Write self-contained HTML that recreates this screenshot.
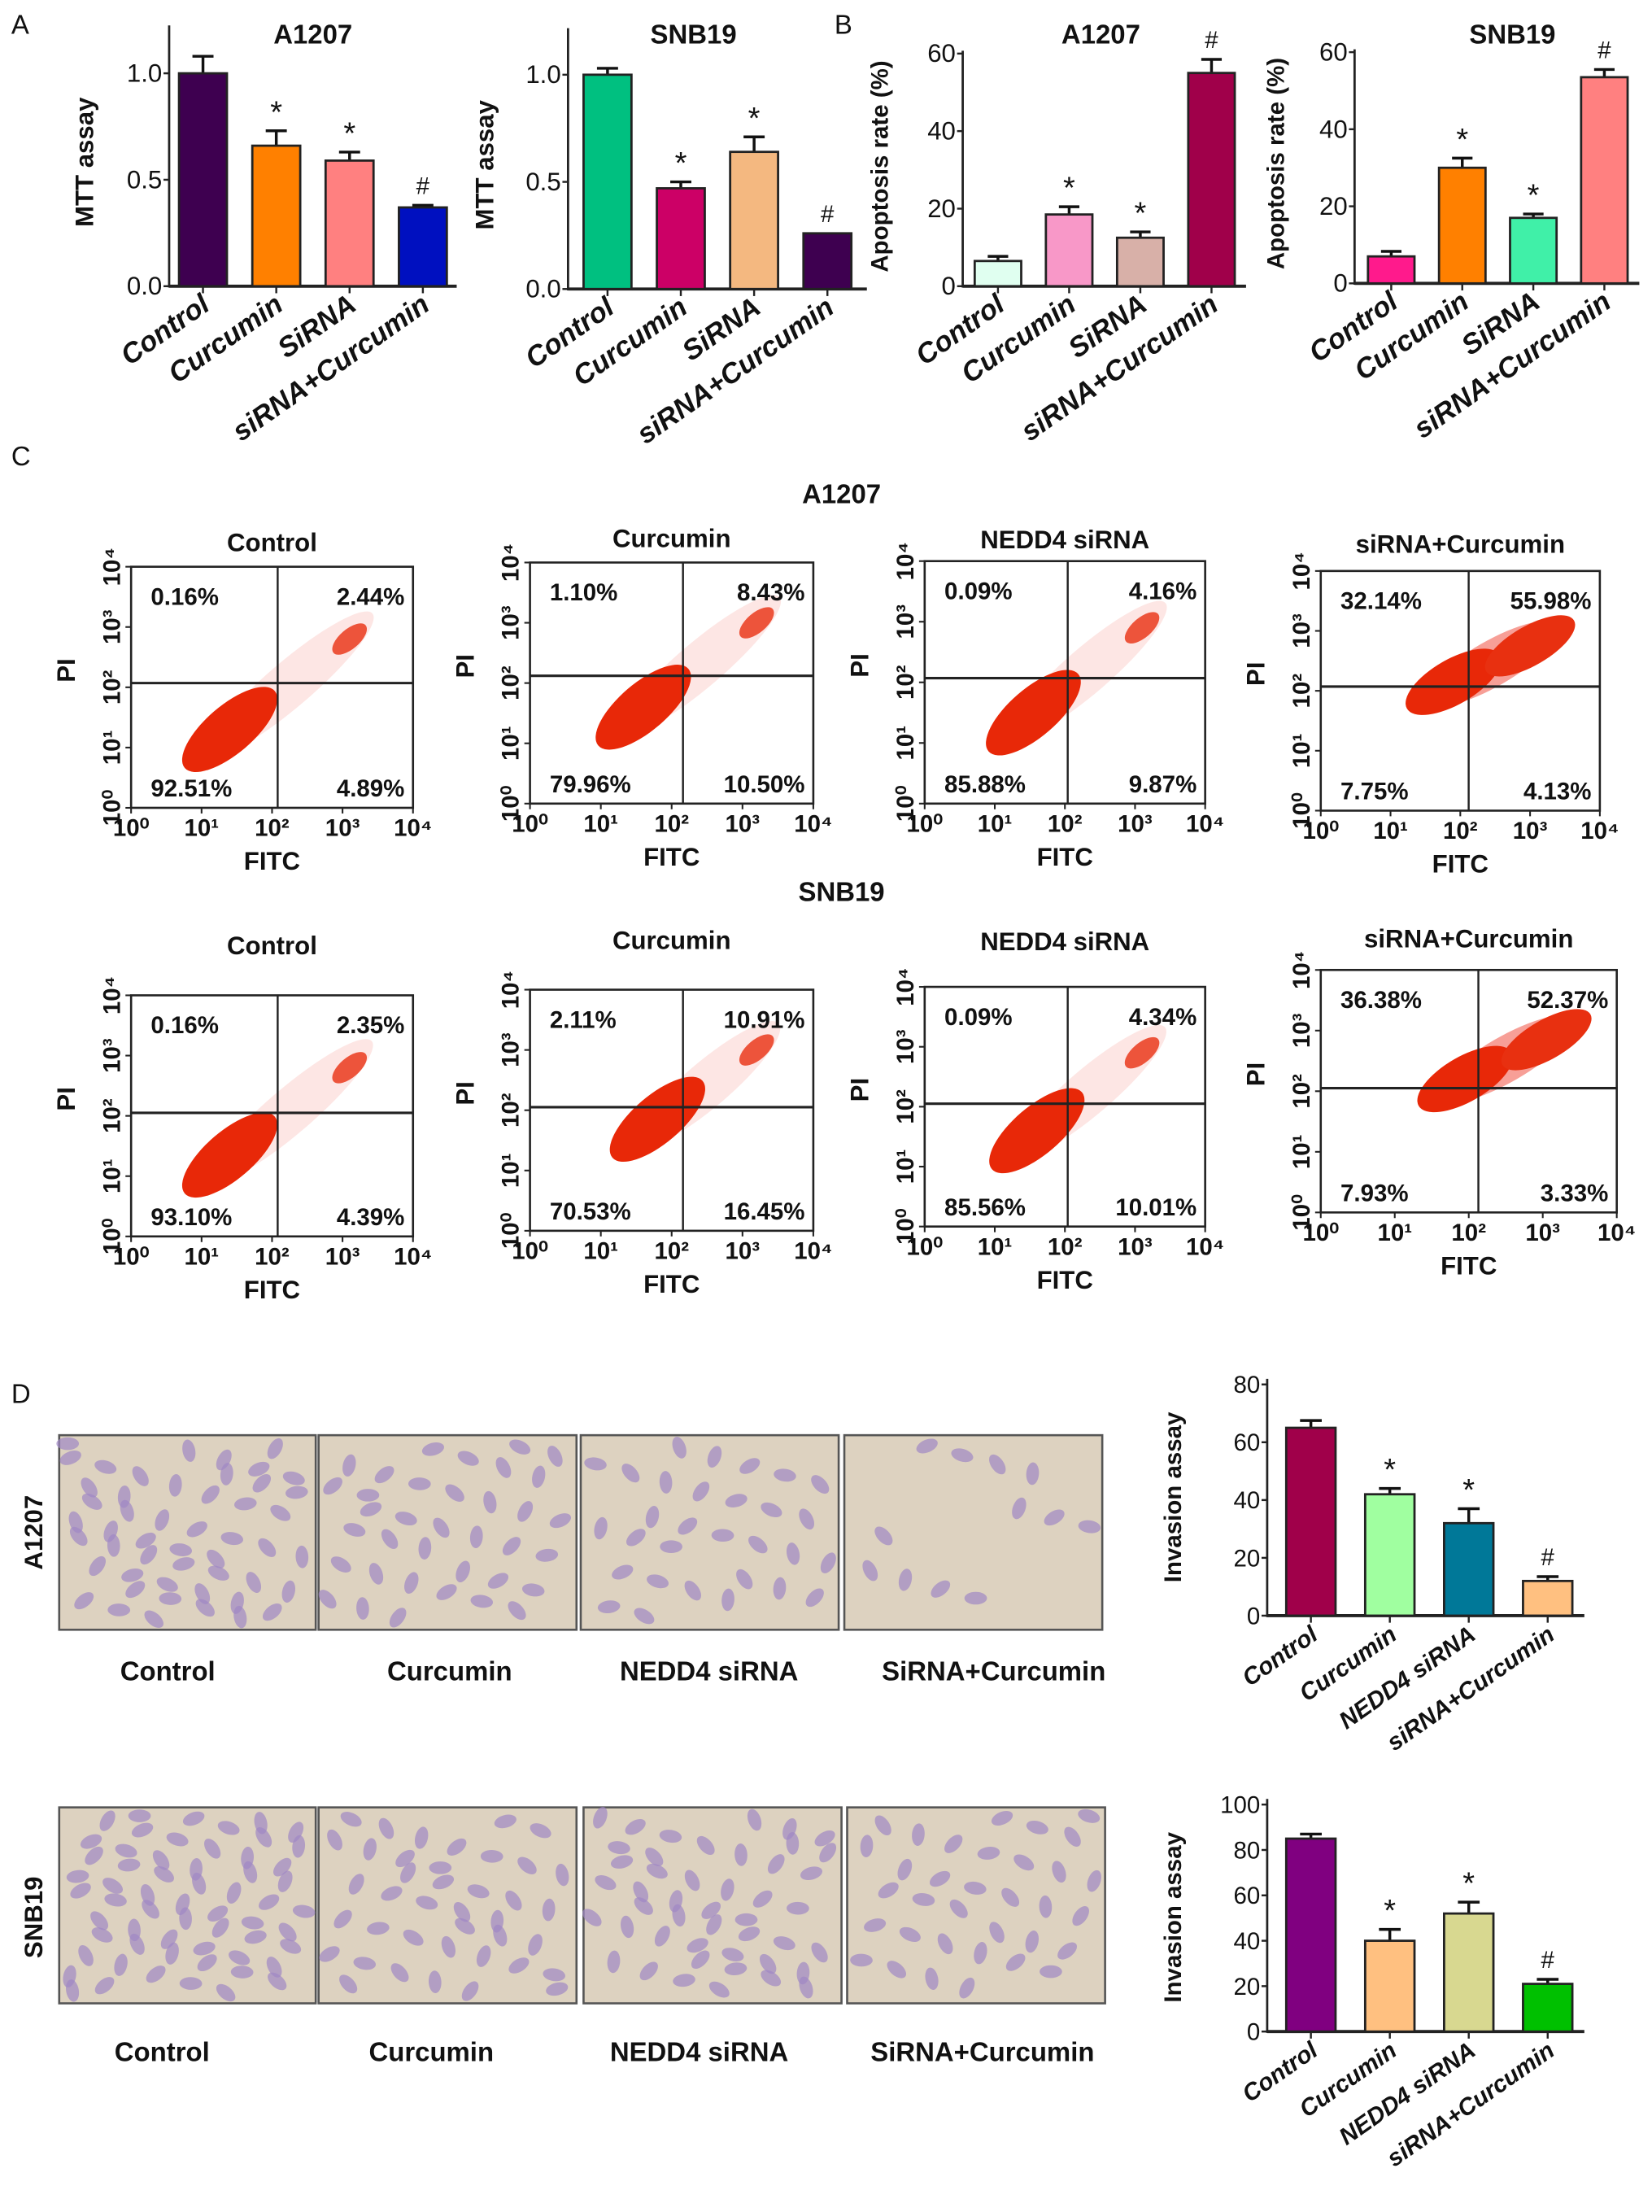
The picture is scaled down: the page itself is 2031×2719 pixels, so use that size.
<!DOCTYPE html>
<html><head><meta charset="utf-8"><style>
html,body{margin:0;padding:0;background:#fff}
svg{display:block}
text{font-family:"Liberation Sans",sans-serif;fill:#111}
</style></head><body>
<svg id="fig" xmlns="http://www.w3.org/2000/svg" width="2031" height="2719" viewBox="0 0 1172 1569" preserveAspectRatio="none">
<text x="8" y="24" font-size="19">A</text>
<text x="592" y="24" font-size="19">B</text>
<text x="8" y="330" font-size="19">C</text>
<text x="8" y="995" font-size="19">D</text>
<text x="597" y="357" font-size="19" font-weight="bold" text-anchor="middle">A1207</text>
<text x="597" y="639" font-size="19" font-weight="bold" text-anchor="middle">SNB19</text>
</svg>
<script>
// ---------- DATA ----------
const mttCats = ["Control","Curcumin","SiRNA","siRNA+Curcumin"];
const mttA1207Values = [1.0, 0.66, 0.59, 0.37];
const mttA1207Err = [0.08, 0.07, 0.04, 0.01];
const mttA1207Marks = ["", "*", "*", "#"];
const mttSNB19Values = [1.0, 0.47, 0.64, 0.26];
const mttSNB19Err = [0.03, 0.03, 0.07, 0.0];
const mttSNB19Marks = ["", "*", "*", "#"];
const mttTicks = [0, 0.5, 1.0];
const mttTickLabels = ["0.0","0.5","1.0"];

const apopCats = ["Control","Curcumin","SiRNA","siRNA+Curcumin"];
const apopA1207Values = [6.5, 18.5, 12.5, 55];
const apopA1207Err = [1.2, 2.0, 1.5, 3.5];
const apopA1207Marks = ["", "*", "*", "#"];
const apopSNB19Values = [7, 30, 17, 53.5];
const apopSNB19Err = [1.3, 2.5, 1.0, 2.0];
const apopSNB19Marks = ["", "*", "*", "#"];
const apopTicks = [0, 20, 40, 60];
const apopTickLabels = ["0","20","40","60"];

const invCats = ["Control","Curcumin","NEDD4 siRNA","siRNA+Curcumin"];
const invA1207Values = [65, 42, 32, 12];
const invA1207Err = [2.5, 2.0, 5.0, 1.5];
const invA1207Marks = ["", "*", "*", "#"];
const invA1207Ticks = [0, 20, 40, 60, 80];
const invA1207TickLabels = ["0","20","40","60","80"];
const invSNB19Values = [85, 40, 52, 21];
const invSNB19Err = [2.0, 5.0, 5.0, 2.0];
const invSNB19Marks = ["", "*", "*", "#"];
const invSNB19Ticks = [0, 20, 40, 60, 80, 100];
const invSNB19TickLabels = ["0","20","40","60","80","100"];

const flowTitles = ["Control","Curcumin","NEDD4  siRNA","siRNA+Curcumin","Control","Curcumin","NEDD4  siRNA","siRNA+Curcumin"];
const flowUL = ["0.16%","1.10%","0.09%","32.14%","0.16%","2.11%","0.09%","36.38%"];
const flowUR = ["2.44%","8.43%","4.16%","55.98%","2.35%","10.91%","4.34%","52.37%"];
const flowLL = ["92.51%","79.96%","85.88%","7.75%","93.10%","70.53%","85.56%","7.93%"];
const flowLR = ["4.89%","10.50%","9.87%","4.13%","4.39%","16.45%","10.01%","3.33%"];
const flowMainX = [1.4,1.6,1.55,1.9,1.4,1.8,1.6,1.95];
const flowMainY = [1.3,1.6,1.5,2.15,1.35,1.85,1.6,2.2];
const flowTailX = [3.1,3.2,3.1,3.0,3.1,3.2,3.1,3.05];
const flowTailY = [2.8,3.0,2.9,2.75,2.8,3.0,2.9,2.85];
const flowGateX = [2.08,2.16,2.04,2.12,2.08,2.16,2.04,2.13];
const flowGateY = [2.07,2.12,2.07,2.07,2.05,2.05,2.05,2.05];
const flowLogTickLabels = ["10⁰","10¹","10²","10³","10⁴"];

// ---------- helpers ----------
const NS="http://www.w3.org/2000/svg";
const svg=document.getElementById('fig');
function mk(tag,attrs,parent){const e=document.createElementNS(NS,tag);for(const k in attrs)e.setAttribute(k,attrs[k]);(parent||svg).appendChild(e);return e;}
function txt(s,attrs,parent){const e=mk('text',attrs,parent);e.textContent=s;return e;}

function barChart(c, cats, vals, errs, marks, ticks, tickLabels, colors){
  const g=mk('g',{});
  
  
  const y=v=>c.base-(v/c.max)*(c.base-c.topPix);
  const ax=mk('line',{x1:c.x0,y1:c.axisTop,x2:c.x0,y2:c.base+1,stroke:'#222','stroke-width':1.6},g);
  
  
  const xa=mk('line',{x1:c.x0,y1:c.base,x2:c.xEnd,y2:c.base,stroke:'#222','stroke-width':2.2},g);
  
  
  ticks.forEach((t,i)=>{
    mk('line',{x1:c.x0-4,y1:y(t),x2:c.x0,y2:y(t),stroke:'#222','stroke-width':1.4},g);
    const tl=txt(tickLabels[i],{x:c.x0-5,y:y(t)+6,'font-size':c.tickFs||18,'text-anchor':'end'},g);
    
    
  });
  cats.forEach((cat,i)=>{
    const cx=c.cx0+i*c.step, v=vals[i], e=errs[i];
    const top=y(v+e);
    if(e>0){
      mk('line',{x1:cx,y1:y(v),x2:cx,y2:top,stroke:'#111','stroke-width':2},g);
      mk('line',{x1:cx-c.barW*0.22,y1:top,x2:cx+c.barW*0.22,y2:top,stroke:'#111','stroke-width':2},g);
    }
    const r=mk('rect',{x:cx-c.barW/2,y:y(v),width:c.barW,height:c.base-y(v),fill:colors[i],stroke:'#222','stroke-width':1.6},g);
    
    
    mk('line',{x1:cx,y1:c.base,x2:cx,y2:c.base+5,stroke:'#222','stroke-width':1.4},g);
    if(marks[i]){
      const m=txt(marks[i],{x:cx,y:top-(marks[i]=='*'?6:8),'font-size':marks[i]=='*'?22:17,'text-anchor':'middle'},g);
      
      
    }
    const lx=cx+6, ly=c.base+16;
    const l=txt(cat,{x:lx,y:ly,'font-size':c.catFs||20,'font-weight':'bold','font-style':'italic','text-anchor':'end',transform:`rotate(-35 ${lx} ${ly})`},g);
    
    
  });
  if(c.title){const t=txt(c.title,{x:c.titleX,y:c.titleY,'font-size':19,'font-weight':'bold','text-anchor':'middle'},g);
    
    }
  const yl=txt(c.ylabel,{x:c.ylX,y:c.ylY,'font-size':c.ylFs||18,'font-weight':'bold','text-anchor':'middle',transform:`rotate(-90 ${c.ylX} ${c.ylY})`,'xml:space':'preserve'},g);
  
  
}

barChart({name:'mtt-a1207-chart',x0:120,xEnd:324,base:203,topPix:52,max:1.0,axisTop:18,cx0:144,step:52,barW:34,title:'A1207',titleX:222,titleY:31,ylabel:'MTT   assay',ylX:66,ylY:115},
  mttCats,mttA1207Values,mttA1207Err,mttA1207Marks,mttTicks,mttTickLabels,['#3e0050','#ff8000','#ff8080','#0010c0']);
barChart({name:'mtt-snb19-chart',x0:403,xEnd:615,base:205,topPix:53,max:1.0,axisTop:20,cx0:431,step:52,barW:34,title:'SNB19',titleX:492,titleY:31,ylabel:'MTT   assay',ylX:350,ylY:117},
  mttCats,mttSNB19Values,mttSNB19Err,mttSNB19Marks,mttTicks,mttTickLabels,['#00c080','#cc0066','#f4b880','#3e0050']);
barChart({name:'apoptosis-a1207-chart',x0:683,xEnd:884,base:203,topPix:38,max:60,axisTop:36,cx0:708,step:50.5,barW:33,title:'A1207',titleX:781,titleY:31,ylabel:'Apoptosis  rate  (%)',ylX:630,ylY:118,ylFs:17},
  apopCats,apopA1207Values,apopA1207Err,apopA1207Marks,apopTicks,apopTickLabels,['#e0fff0','#f898c8','#d8b0a8','#a0004a']);
barChart({name:'apoptosis-snb19-chart',x0:961,xEnd:1163,base:201,topPix:37,max:60,axisTop:35,cx0:987,step:50.4,barW:33,title:'SNB19',titleX:1073,titleY:31,ylabel:'Apoptosis  rate  (%)',ylX:911,ylY:116,ylFs:17},
  apopCats,apopSNB19Values,apopSNB19Err,apopSNB19Marks,apopTicks,apopTickLabels,['#ff1a8c','#ff8000','#40f0a8','#ff8080']);
barChart({name:'invasion-a1207-chart',x0:899,xEnd:1124,base:1146,topPix:982,max:80,axisTop:978,cx0:930,step:56,barW:35,ylabel:'Invasion assay',ylX:838,ylY:1062,ylFs:17,tickFs:17,catFs:17},
  invCats,invA1207Values,invA1207Err,invA1207Marks,invA1207Ticks,invA1207TickLabels,['#a0004a','#a0ffa0','#007898','#ffc080']);
barChart({name:'invasion-snb19-chart',x0:899,xEnd:1124,base:1441,topPix:1280,max:100,axisTop:1276,cx0:930,step:56,barW:35,ylabel:'Invasion assay',ylX:838,ylY:1360,ylFs:17,tickFs:17,catFs:17},
  invCats,invSNB19Values,invSNB19Err,invSNB19Marks,invSNB19Ticks,invSNB19TickLabels,['#800080','#ffc080','#d8d890','#00c000']);

// ---------- flow plots ----------
const flowBoxes=[[93,402,293,573],[376,399,577,570],[656,398,855,570],[937,405,1135,575],
                 [93,706,293,877],[376,702,577,873],[656,700,855,870],[937,688,1147,860]];
const titleY=[391,388,389,392,677,673,674,672];
flowBoxes.forEach((b,i)=>{
  const [L,T,R,B]=b, W=R-L, H=B-T;
  const g=mk('g',{});
  
  
  const X=l=>L+l/4*W, Y=l=>B-l/4*H;
  const late=(i%4==3);
  const ang=late?-30:-Math.atan2(H,W)*180/Math.PI;
  const mx=(flowMainX[i]+flowTailX[i])/2, my=(flowMainY[i]+flowTailY[i])/2;
  const len=Math.hypot(X(flowTailX[i])-X(flowMainX[i]),Y(flowTailY[i])-Y(flowMainY[i]));
  mk('ellipse',{cx:X(mx),cy:Y(my),rx:len/2+24,ry:16,fill:'#f04030',opacity:late?0.5:0.13,transform:`rotate(${ang} ${X(mx)} ${Y(my)})`},g);
  const main=mk('ellipse',{cx:X(flowMainX[i]),cy:Y(flowMainY[i]),rx:late?38:42,ry:late?16:17,fill:'#e82808',transform:`rotate(${ang} ${X(flowMainX[i])} ${Y(flowMainY[i])})`},g);
  
  
  const tail=mk('ellipse',{cx:X(flowTailX[i]),cy:Y(flowTailY[i]),rx:late?36:15,ry:late?14:7,fill:'#e83010',opacity:late?1:0.8,transform:`rotate(${ang} ${X(flowTailX[i])} ${Y(flowTailY[i])})`},g);
  
  
  mk('rect',{x:L,y:T,width:W,height:H,fill:'none',stroke:'#222','stroke-width':1.5},g);
  mk('line',{x1:L,y1:Y(flowGateY[i]),x2:R,y2:Y(flowGateY[i]),stroke:'#222','stroke-width':1.8},g);
  mk('line',{x1:X(flowGateX[i]),y1:T,x2:X(flowGateX[i]),y2:B,stroke:'#222','stroke-width':1.4},g);
  const tt=txt(flowTitles[i],{x:(L+R)/2,y:titleY[i],'font-size':18,'font-weight':'bold','text-anchor':'middle','xml:space':'preserve'},g);
  
  
  const q=[[flowUL[i],L+14,T+27,'start'],[flowUR[i],R-6,T+27,'end'],[flowLL[i],L+14,B-8,'start'],[flowLR[i],R-6,B-8,'end']];
  q.forEach(a=>{const e=txt(a[0],{x:a[1],y:a[2],'font-size':17,'font-weight':'bold','text-anchor':a[3]},g);
    
    });
  flowLogTickLabels.forEach((s,k)=>{
    const xt=txt(s,{x:X(k),y:B+20,'font-size':17,'font-weight':'bold','text-anchor':'middle'},g);
    
    
    const yx=L-8, yy=Y(k);
    const yt=txt(s,{x:yx,y:yy,'font-size':17,'font-weight':'bold','text-anchor':'middle',transform:`rotate(-90 ${yx} ${yy})`},g);
    
    
    mk('line',{x1:X(k),y1:B,x2:X(k),y2:B+4,stroke:'#222','stroke-width':1.2},g);
    mk('line',{x1:L-4,y1:Y(k),x2:L,y2:Y(k),stroke:'#222','stroke-width':1.2},g);
  });
  const fx=txt('FITC',{x:(L+R)/2,y:B+44,'font-size':18,'font-weight':'bold','text-anchor':'middle'},g);
  
  
  const px=L-40, py=(T+B)/2-12;
  const pi=txt('PI',{x:px,y:py,'font-size':18,'font-weight':'bold','text-anchor':'middle',transform:`rotate(-90 ${px} ${py})`},g);
  
  
});

// ---------- invasion micrographs (decorative) ----------
const photoRows=[{y:1018,h:138,xs:[[42,224],[226,409],[412,595],[599,782]],labelY:1192,labelXs:[119,319,503,705],row:'A1207',rowY:1087,density:[50,36,30,12]},
                 {y:1282,h:139,xs:[[42,224],[226,409],[414,597],[601,784]],labelY:1462,labelXs:[115,306,496,697],row:'SNB19',rowY:1360,density:[60,40,46,34]}];
const photoLabels=["Control","Curcumin","NEDD4  siRNA","SiRNA+Curcumin"];
photoRows.forEach((r,ri)=>{
  r.xs.forEach((xx,k)=>{
    const g=mk('g',{});
    
    
    const w=xx[1]-xx[0];
    mk('rect',{x:xx[0],y:r.y,width:w,height:r.h,fill:'#ddd2c0',stroke:'#555','stroke-width':1.5},g);
    const n=r.density[k];
    for(let j=0;j<n;j++){
      const fx=((j*0.618+ri*0.3+k*0.17)%1), fy=((j*0.382*1.7+k*0.29)%1);
      const a=(j*47)%180;
      const cx=xx[0]+6+fx*(w-12), cy=r.y+6+fy*(r.h-12);
      mk('ellipse',{cx:cx,cy:cy,rx:8,ry:4.5,fill:'#a088c4',opacity:0.7,transform:`rotate(${a} ${cx} ${cy})`},g);
    }
    const t=txt(photoLabels[k],{x:r.labelXs[k],y:r.labelY,'font-size':19,'font-weight':'bold','text-anchor':'middle','xml:space':'preserve'});
    
    
  });
  const rl=txt(r.row,{x:30,y:r.rowY,'font-size':18,'font-weight':'bold','text-anchor':'middle',transform:`rotate(-90 30 ${r.rowY})`});
  
  
});
</script>
</body></html>
